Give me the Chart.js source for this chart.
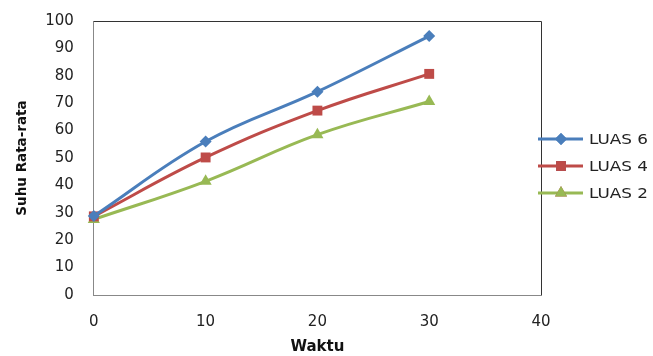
<!DOCTYPE html>
<html lang="id">
<head>
<meta charset="utf-8">
<title>Suhu Rata-rata vs Waktu</title>
<script src="https://cdn.jsdelivr.net/npm/chart.js@4/dist/chart.umd.min.js"></script>
<style>
  html, body { margin: 0; padding: 0; background: #fff; }
  #wrap { width: 653px; height: 356px; }
</style>
</head>
<body>
<div id="wrap"><canvas id="chart"></canvas></div>
<script>
// data
var waktu = [0, 10, 20, 30];
var seriesNames = ['LUAS 6', 'LUAS 4', 'LUAS 2'];
var luas6 = [28.8, 56, 74.2, 94.5];
var luas4 = [28.7, 50.2, 67.3, 80.7];
var luas2 = [27.6, 41.5, 58.5, 70.6];
var xTicks = [0, 10, 20, 30, 40];
var yTicks = [0, 10, 20, 30, 40, 50, 60, 70, 80, 90, 100];

var colors = ['#4A7EBB', '#BE4B48', '#98B954'];
var markers = ['rectRot', 'rect', 'triangle'];
var radii = [6, 7, 7];

function pts(ys) {
  return waktu.map(function (x, i) { return { x: x, y: ys[i] }; });
}

var allSeries = [luas6, luas4, luas2];
var datasets = allSeries.map(function (ys, i) {
  return {
    label: seriesNames[i],
    data: pts(ys),
    borderColor: colors[i],
    backgroundColor: colors[i],
    borderWidth: 3,
    pointStyle: markers[i],
    pointRadius: radii[i],
    pointBorderWidth: 0,
    tension: 0.4,
    clip: false
  };
});

// plot box + excel-like legend
var boxAndLegend = {
  id: 'boxAndLegend',
  beforeDatasetsDraw: function (chart) {
    var a = chart.chartArea, ctx = chart.ctx;
    ctx.save();
    ctx.lineWidth = 1;
    ctx.strokeStyle = '#333';
    ctx.beginPath();
    ctx.moveTo(a.left, a.top + 0.5);
    ctx.lineTo(a.right + 0.5, a.top + 0.5);
    ctx.lineTo(a.right + 0.5, a.bottom);
    ctx.stroke();
    ctx.restore();
  },
  afterDraw: function (chart) {
    var ctx = chart.ctx;
    var x0 = chart.chartArea.right - 3;
    var ys = [139, 166, 193];
    ctx.save();
    chart.data.datasets.forEach(function (ds, i) {
      var y = ys[i];
      ctx.strokeStyle = ds.borderColor;
      ctx.lineWidth = 3;
      ctx.beginPath();
      ctx.moveTo(x0, y);
      ctx.lineTo(x0 + 45, y);
      ctx.stroke();
      Chart.helpers.drawPoint(ctx, {
        pointStyle: ds.pointStyle, radius: ds.pointRadius, rotation: 0, borderWidth: 0
      }, x0 + 23, y);
      ctx.fillStyle = ds.borderColor;
      ctx.fill();
      ctx.save();
      ctx.translate(x0 + 51, y + 1);
      ctx.scale(1.2, 1);
      ctx.fillStyle = '#222';
      ctx.font = '14px "DejaVu Sans"';
      ctx.textBaseline = 'middle';
      ctx.fillText(ds.label, 0, 0);
      ctx.restore();
    });
    ctx.restore();
  }
};

new Chart(document.getElementById('chart').getContext('2d'), {
  type: 'line',
  data: { datasets: datasets },
  options: {
    responsive: true,
    maintainAspectRatio: false,
    animation: false,
    layout: { padding: { top: 10, right: 112, left: 14, bottom: 0 } },
    plugins: { legend: { display: false }, tooltip: { enabled: false } },
    scales: {
      x: {
        type: 'linear', min: 0, max: 40,
        afterBuildTicks: function (s) { s.ticks = xTicks.map(function (v) { return { value: v }; }); },
        grid: { display: false },
        border: { display: true, color: '#888', width: 1 },
        ticks: { color: '#222', font: { family: 'DejaVu Sans', size: 15 }, padding: 10 },
        title: { display: true, text: 'Waktu', color: '#111', font: { family: 'DejaVu Sans', size: 15, weight: 'bold' }, padding: { top: -3, bottom: 0 } }
      },
      y: {
        type: 'linear', min: 0, max: 100,
        afterBuildTicks: function (s) { s.ticks = yTicks.map(function (v) { return { value: v }; }); },
        grid: { display: false },
        border: { display: true, color: '#888', width: 1 },
        ticks: { color: '#222', font: { family: 'DejaVu Sans', size: 15 }, padding: 12 },
        title: { display: true, text: 'Suhu Rata-rata', color: '#111', font: { family: 'DejaVu Sans', size: 13.5, weight: 'bold' }, padding: { top: 0, bottom: 3 } }
      }
    }
  },
  plugins: [boxAndLegend]
});
</script>
</body>
</html>
